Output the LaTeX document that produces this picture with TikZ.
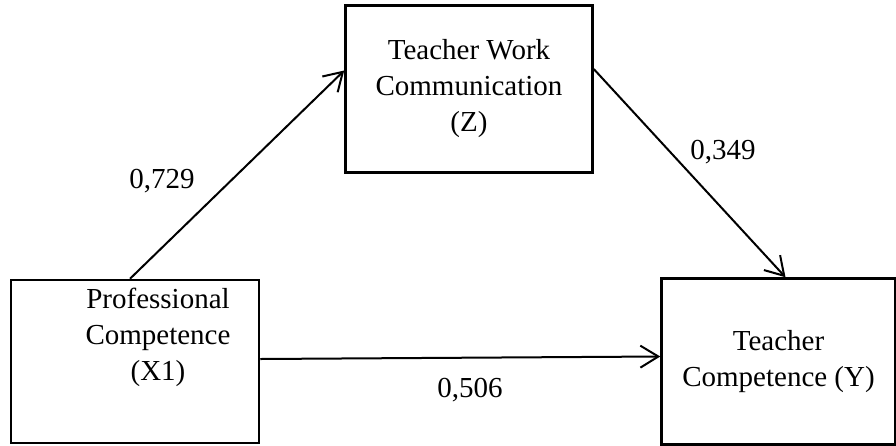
\documentclass[tikz,border=0pt]{standalone}
\usepackage{fontspec}
\setmainfont{Liberation Serif}
\usetikzlibrary{arrows.meta,positioning}

\begin{document}
\begin{tikzpicture}[
  x=1pt, y=-1pt,
  font=\fontsize{29}{36}\selectfont,
  box/.style={draw, line width=2.5pt, align=center, inner sep=0pt},
  arr/.style={-{Straight Barb[length=18pt,width=22pt]}, line width=2pt},
  coef/.style={inner sep=0pt},
]
\useasboundingbox (0,0) rectangle (896,445);

% Variables
\node[box, minimum width=248pt, minimum height=163pt,
  label={[align=center, xshift=23pt, yshift=24pt]center:Professional\\Competence\\(X1)}]
  (lbox) at (135,361.5) {};
\node[box, minimum width=247pt, minimum height=167pt,
  above right=105pt and 84pt of lbox] (zbox) {Teacher Work\\Communication\\(Z)};
\node[box, minimum width=234pt, minimum height=166pt,
  right=400pt of lbox] (rbox) {Teacher\\Competence (Y)};

% Paths
\draw[arr] ([xshift=-5pt]lbox.north) -- ([yshift=18.5pt]zbox.west);
\draw[arr] ([yshift=20pt]zbox.east) -- ([xshift=7pt]rbox.north);
\draw[arr] ([yshift=2.5pt]lbox.east) -- ([yshift=5pt]rbox.west);

% Coefficients
\node[coef] (cxz) at (162,181) {0,729};
\node[coef] (czy) at (723,152) {0,349};
\node[coef] (cxy) at (470,390) {0,506};
\end{tikzpicture}
\end{document}
